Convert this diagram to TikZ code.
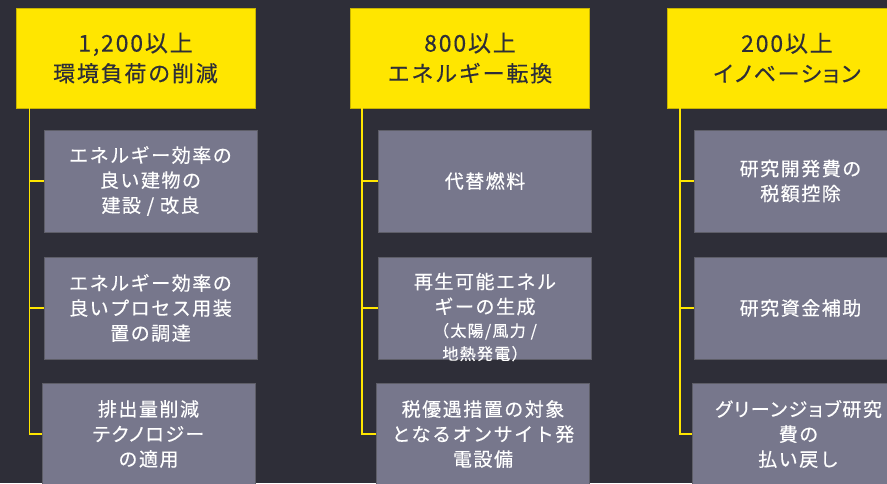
\documentclass[tikz,border=0pt]{standalone}
\usepackage{fontspec}
\usetikzlibrary{calc}
\setmainfont{Noto Sans CJK JP}[LetterSpace=8,FakeBold=0.4]
\newcommand{\proptext}[1]{{\addfontfeatures{RawFeature=+palt}#1}}
\definecolor{bg}{HTML}{2E2E38}
\definecolor{eyyellow}{HTML}{FFE600}
\definecolor{hdrborder}{HTML}{C8B400}
\definecolor{greybox}{HTML}{77778C}
\definecolor{greyborder}{HTML}{5E5E68}
\tikzset{
  hdr/.style={fill=eyyellow, draw=hdrborder, line width=0.8pt, minimum width=239pt, minimum height=100pt, inner sep=0pt, align=center, text=bg, font=\fontsize{22}{30}\selectfont},
  gbox/.style={fill=greybox, draw=greyborder, line width=1pt, minimum width=213pt, minimum height=102pt, inner sep=0pt, align=center, text=white, font=\fontsize{19}{25}\selectfont},
  gtext/.style={inner sep=0pt, align=center, text=white, font=\fontsize{19}{25}\selectfont},
  conn/.style={draw=eyyellow, line width=1.6pt}
}
\begin{document}
\begin{tikzpicture}[x=1pt,y=-1pt]
\fill[bg] (0,0) rectangle (887,483);
\useasboundingbox (0,0) rectangle (887,483);
\clip (0,0) rectangle (887,483);

% column 1
\node[hdr] (h1) at (135.5,58) {{\fontsize{23}{30}\selectfont 1,200以上}\\環境負荷の削減};
\node[gbox] (b11) at (150.5,181) {エネルギー効率の\\良い建物の\\建設 / 改良};
\node[gbox] (b12) at (150.5,308) {エネルギー効率の\\良いプロセス用装\\置の調達};
\node[gbox] (b13) at (148.5,434) {排出量削減\\\proptext{テクノロジー}\\の適用};
\coordinate (t1) at ($(h1.south west)+(14,0)$);
\draw[conn] (t1) |- (b13.west);
\draw[conn] (t1 |- b11.west) -- (b11.west);
\draw[conn] (t1 |- b12.west) -- (b12.west);

% column 2
\node[hdr] (h2) at (470,58) {{\fontsize{23}{30}\selectfont 800以上}\\エネルギー転換};
\node[gbox] (b21) at (485,181) {代替燃料};
\node[gbox] (b22) at (485,308) {};
\node[gtext] (l22) at (485,317) {再生可能エネル\\ギーの生成\\[-2pt]{\fontsize{16}{23}\selectfont （太陽/風力 /}\\[-2pt]{\fontsize{16}{23}\selectfont 地熱発電）}};
\node[gbox] (b23) at (483,434) {税優遇措置の対象\\となるオンサイト発\\電設備};
\coordinate (t2) at ($(h2.south west)+(12,0)$);
\draw[conn] (t2) |- (b23.west);
\draw[conn] (t2 |- b21.west) -- (b21.west);
\draw[conn] (t2 |- b22.west) -- (b22.west);

% column 3
\node[hdr] (h3) at (787,58) {{\fontsize{23}{30}\selectfont 200以上}\\\proptext{イノベーション}};
\node[gbox] (b31) at (800.5,181) {研究開発費の\\税額控除};
\node[gbox] (b32) at (800.5,308) {研究資金補助};
\node[gbox] (b33) at (798.5,434) {\proptext{グリーンジョブ研究}\\費の\\払い戻し};
\coordinate (t3) at ($(h3.south west)+(13,0)$);
\draw[conn] (t3) |- (b33.west);
\draw[conn] (t3 |- b31.west) -- (b31.west);
\draw[conn] (t3 |- b32.west) -- (b32.west);
\end{tikzpicture}
\end{document}
